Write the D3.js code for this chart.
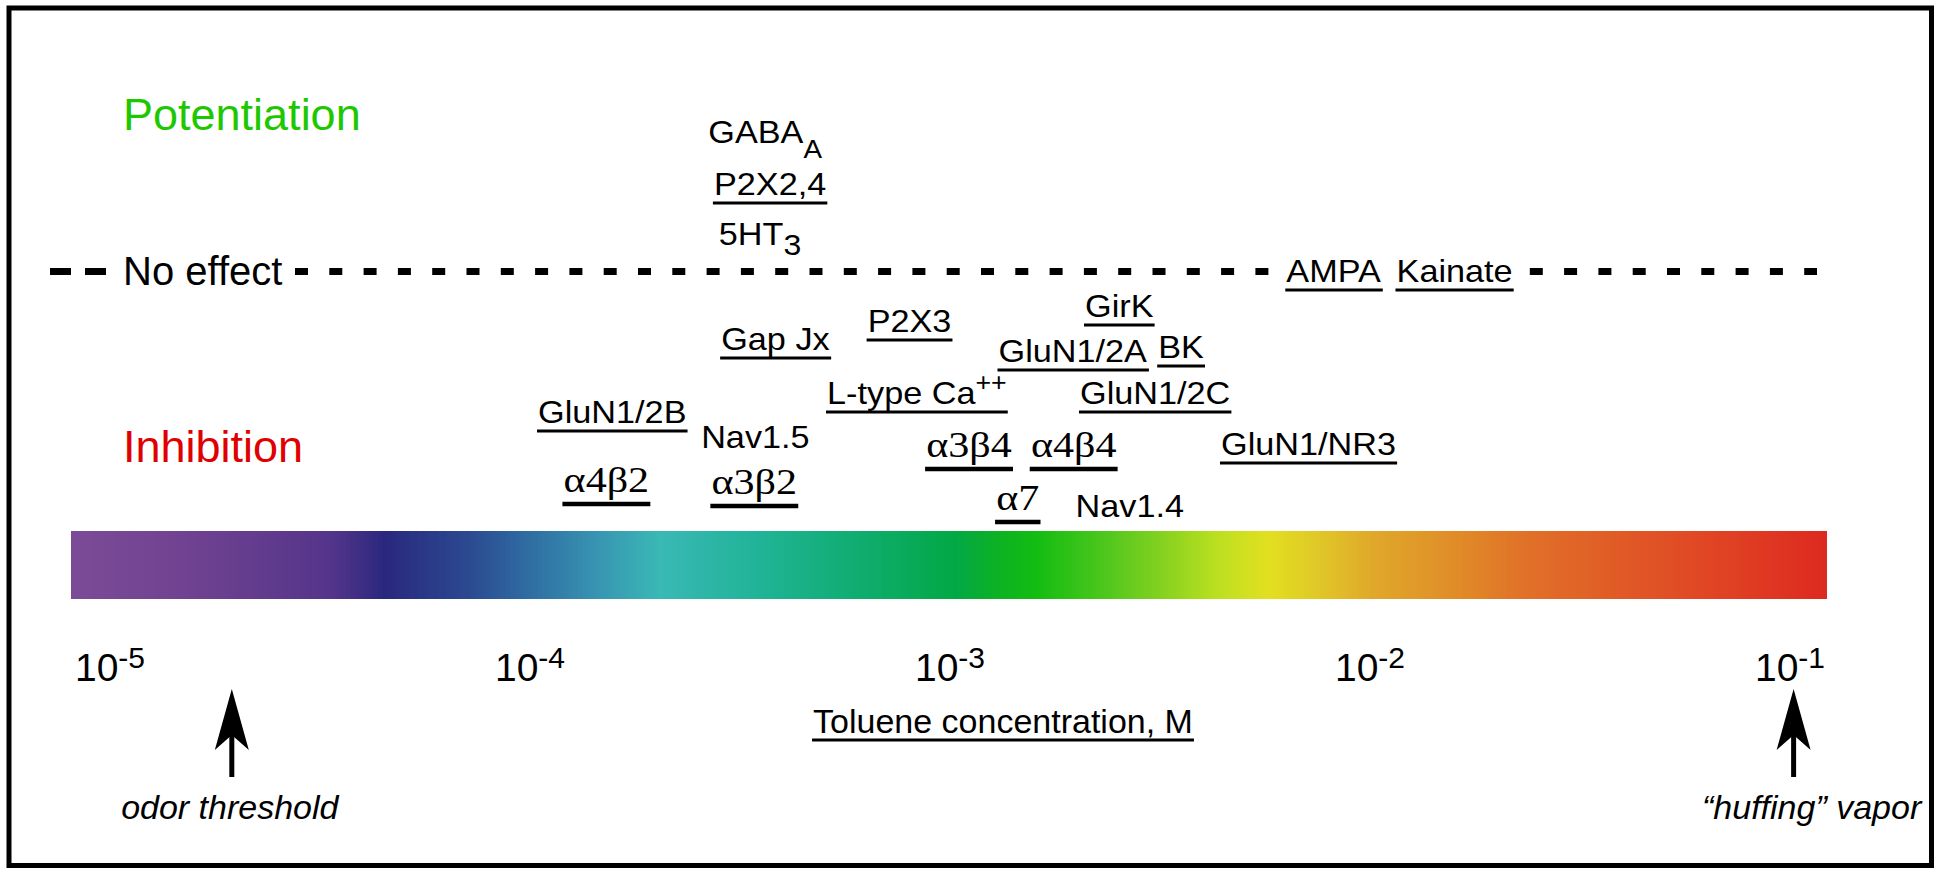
<!DOCTYPE html>
<html>
<head>
<meta charset="utf-8">
<script src="https://cdn.jsdelivr.net/npm/d3@7"></script>
<style>
  html, body { margin: 0; padding: 0; background: #fff; }
  svg { display: block; }
</style>
</head>
<body>
<svg id="chart" width="1942" height="874"></svg>
<script>
// ---------------- DATA ----------------
// Axis ticks (toluene concentration, M)
const tickValues = [1e-5, 1e-4, 1e-3, 1e-2, 1e-1];
const tickBase = ["10", "10", "10", "10", "10"];
const tickExponents = ["-5", "-4", "-3", "-2", "-1"];

// Receptors / channels, approximate effective toluene concentration (M)
const receptorNames = ["GABA", "P2X2,4", "5HT", "AMPA", "Kainate",
  "GirK", "P2X3", "Gap Jx", "GluN1/2A", "BK", "L-type Ca", "GluN1/2C",
  "GluN1/2B", "Nav1.5", "GluN1/NR3", "α3β4", "α4β4", "α4β2", "α3β2", "α7", "Nav1.4"];
const receptorConc = [3.63e-4, 3.73e-4, 3.53e-4, 8.19e-3, 1.59e-2,
  2.53e-3, 8.01e-4, 3.84e-4, 1.96e-3, 3.55e-3, 8.34e-4, 3.08e-3,
  1.57e-4, 3.44e-4, 7.14e-3, 1.11e-3, 1.97e-3, 1.52e-4, 3.42e-4, 1.45e-3, 2.68e-3];
const receptorEffect = ["potentiation", "potentiation", "potentiation", "none", "none",
  "inhibition", "inhibition", "inhibition", "inhibition", "inhibition", "inhibition", "inhibition",
  "inhibition", "inhibition", "inhibition", "inhibition", "inhibition", "inhibition", "inhibition", "inhibition", "inhibition"];
const receptorSub = ["A", "", "3", "", "", "", "", "", "", "", "", "", "", "", "", "", "", "", "", "", ""];
const receptorSup = ["", "", "", "", "", "", "", "", "", "", "++", "", "", "", "", "", "", "", "", "", ""];
const receptorUnderlined = [false, true, false, true, true,
  true, true, true, true, true, true, true,
  true, false, true, true, true, true, true, true, false];

// Reference concentrations marked with arrows
const markerNames = ["odor threshold", "“huffing” vapor"];
const markerConc = [1.95e-5, 0.102];

// Colour bar: extent and colour stops (log10 of concentration)
const barConcRange = [8.07e-6, 0.122];
const colorStopLog10 = [-5.093, -4.786, -4.476, -4.343, -4.143, -4.0, -3.833, -3.690, -3.476, -3.238,
  -2.988, -2.88, -2.798, -2.655, -2.507, -2.360, -2.243, -2.126, -1.993, -1.845, -1.624, -1.402, -1.181, -0.914];
const colorStopHex = ["#7b4b96", "#6e4190", "#54358a", "#29287e", "#2b4a91", "#2f6ea2", "#3896b2", "#3ab8b5", "#22b49a", "#11ad74",
  "#02a845", "#0db222", "#12bc12", "#45c51b", "#80d020", "#bde020", "#e2e020", "#e0c828", "#e0a82a", "#e09428", "#e07028", "#e05a26", "#e04424", "#dd2a20"];

// ---------------- LAYOUT / STYLE ----------------
const W = 1942, H = 874;
const SANS = "'Liberation Sans', Arial, Helvetica, sans-serif";
const SERIF = "'Liberation Serif', 'Times New Roman', Times, serif";
const labelBaseline = [143, 195, 245, 282, 282,
  317, 332, 350, 362, 358, 404, 404,
  423, 448, 455, 457, 457, 492, 494, 510, 517];
const SANS_SIZE = 32, SANS_SX = 1.07;
const GREEK_SIZE = 36, GREEK_SX = 1.17;
const lineY = 271.5;
const bar = { y0: 531, y1: 599 };

const svg = d3.select("#chart");
svg.append("rect").attr("width", W).attr("height", H).attr("fill", "#fff");

const x = d3.scaleLog().domain([1e-5, 1e-1]).range([110, 1790]);
const color = d3.scaleLinear().domain(colorStopLog10).range(colorStopHex).interpolate(d3.interpolateRgb);

// Frame
svg.append("rect").attr("x", 9).attr("y", 8).attr("width", 1922.5).attr("height", 857.5)
  .attr("fill", "none").attr("stroke", "#000").attr("stroke-width", 5);

// Colour bar drawn as thin slices
const lo = Math.log10(barConcRange[0]), hi = Math.log10(barConcRange[1]);
const nSlices = 440;
const slices = d3.range(nSlices).map(i => [lo + (hi - lo) * i / nSlices, lo + (hi - lo) * (i + 1) / nSlices]);
svg.append("g").selectAll("rect").data(slices).join("rect")
  .attr("x", d => x(Math.pow(10, d[0])))
  .attr("width", d => x(Math.pow(10, d[1])) - x(Math.pow(10, d[0])) + 0.6)
  .attr("y", bar.y0).attr("height", bar.y1 - bar.y0)
  .attr("fill", d => color((d[0] + d[1]) / 2))
  .attr("shape-rendering", "crispEdges");

// Axis tick labels 10^n
const ticks = svg.append("g").selectAll("text").data(tickValues).join("text")
  .attr("x", d => x(d)).attr("y", 681)
  .attr("text-anchor", "middle").attr("font-family", SANS).attr("font-size", 39).attr("fill", "#000");
ticks.append("tspan").text((d, i) => tickBase[i]);
ticks.append("tspan").attr("dy", -13).attr("font-size", 30).text((d, i) => tickExponents[i]);

// Axis title
const title = svg.append("text").attr("x", 1003).attr("y", 733).attr("text-anchor", "middle")
  .attr("font-family", SANS).attr("font-size", 34).attr("fill", "#000").text("Toluene concentration, M");
{
  const b = title.node().getBBox();
  svg.append("line").attr("x1", b.x - 1).attr("x2", b.x + b.width + 1).attr("y1", 740).attr("y2", 740)
    .attr("stroke", "#000").attr("stroke-width", 3);
}

// Section labels
svg.append("text").attr("x", 123).attr("y", 130).attr("font-family", SANS).attr("font-size", 45)
  .attr("fill", "#1ec800").text("Potentiation");
svg.append("text").attr("x", 123).attr("y", 462).attr("font-family", SANS).attr("font-size", 45)
  .attr("fill", "#e00000").text("Inhibition");
svg.append("text").attr("x", 123).attr("y", 285).attr("font-family", SANS).attr("font-size", 40)
  .attr("fill", "#000").text("No effect");

// No-effect dashed line
svg.append("line").attr("x1", 50).attr("x2", 106).attr("y1", lineY).attr("y2", lineY)
  .attr("stroke", "#000").attr("stroke-width", 7).attr("stroke-dasharray", "21,14");
svg.append("line").attr("x1", 295).attr("x2", 1817).attr("y1", lineY).attr("y2", lineY)
  .attr("stroke", "#000").attr("stroke-width", 7).attr("stroke-dasharray", "13,21.3");
const maskLayer = svg.append("g");

// Receptor labels
const labelLayer = svg.append("g");
receptorNames.forEach((name, i) => {
  const greek = /[αβ]/.test(name);
  const sx = greek ? GREEK_SX : SANS_SX;
  const g = labelLayer.append("g")
    .attr("transform", `translate(${x(receptorConc[i])},${labelBaseline[i]}) scale(${sx},1)`);
  const t = g.append("text").attr("text-anchor", "middle")
    .attr("font-family", greek ? SERIF : SANS).attr("font-size", greek ? GREEK_SIZE : SANS_SIZE).attr("fill", "#000");
  t.append("tspan").text(name);
  if (receptorSub[i]) {
    const big = receptorSub[i] === "3";
    t.append("tspan").attr("dy", big ? 10 : 15).attr("font-size", big ? 30 : 26).text(receptorSub[i]);
  }
  if (receptorSup[i]) {
    t.append("tspan").attr("dy", -13).attr("font-size", 25).text(receptorSup[i]);
  }
  const b = t.node().getBBox();
  if (receptorUnderlined[i]) {
    const off = greek ? 12 : 8;
    g.append("line").attr("x1", b.x - 1).attr("x2", b.x + b.width + 1)
      .attr("y1", off).attr("y2", off)
      .attr("stroke", "#000").attr("stroke-width", greek ? 4.5 : 3);
  }
  if (receptorEffect[i] === "none") {
    const r = t.node().getBoundingClientRect();
    maskLayer.append("rect").attr("x", r.left - 7).attr("y", lineY - 6)
      .attr("width", r.width + 14).attr("height", 12).attr("fill", "#fff");
  }
});

// Marker arrows
const arrows = svg.append("g").selectAll("g").data(markerConc).join("g")
  .attr("transform", d => `translate(${x(d)},689)`);
arrows.append("line").attr("x1", 0).attr("x2", 0).attr("y1", 44).attr("y2", 88)
  .attr("stroke", "#000").attr("stroke-width", 5);
arrows.append("path").attr("d", "M0,0 L17,61 L0,46 L-17,61 Z").attr("fill", "#000");
svg.append("g").selectAll("text").data(markerNames).join("text")
  .attr("x", (d, i) => x(markerConc[i]) + (i === 1 ? 18 : -2))
  .attr("y", 819).attr("text-anchor", "middle")
  .attr("font-family", SANS).attr("font-style", "italic").attr("font-size", 34).attr("fill", "#000")
  .text(d => d);
</script>
</body>
</html>
